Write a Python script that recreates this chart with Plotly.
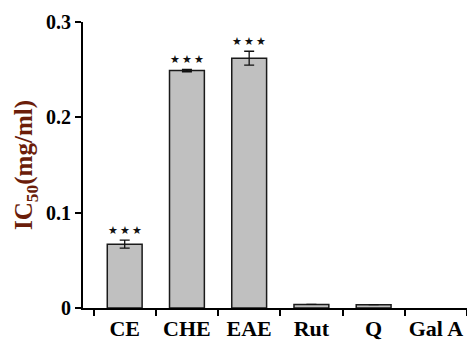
import plotly.graph_objects as go

categories = ["CE", "CHE", "EAE", "Rut", "Q", "Gal A"]
ic50 = [0.067, 0.249, 0.262, 0.0038, 0.0035, None]
err = [0.0042, 0.0012, 0.0073, 0.0, 0.0, 0.0]
sig = ["***", "***", "***", "", "", ""]
y_ticks = [0, 0.1, 0.2, 0.3]
y_tick_labels = ["0", "0.1", "0.2", "0.3"]

font_fam = "Liberation Serif, Times New Roman, serif"

fig = go.Figure()
fig.add_trace(go.Bar(
    x=categories, y=ic50,
    width=0.56,
    marker=dict(color="#c0c0c0", line=dict(color="#1a1a1a", width=1.5)),
    error_y=dict(type="data", array=err, visible=True, color="#111111",
                 thickness=1.3, width=5),
    showlegend=False,
))

for c, v, e, s in zip(categories, ic50, err, sig):
    if s and v is not None:
        fig.add_annotation(x=c, y=v + e, text="★\u2009★\u2009★", showarrow=False,
                           yanchor="bottom", yshift=1,
                           font=dict(family="DejaVu Sans", size=11, color="#111111"))

fig.update_layout(
    width=467, height=340,
    margin=dict(l=83, r=0, t=22, b=32),
    plot_bgcolor="white", paper_bgcolor="white",
    xaxis=dict(type="category", range=[-0.67, 5.5],
               ticktext=["<b>%s</b>" % c for c in categories],
               tickvals=categories, tickmode="array", tickangle=0,
               ticks="outside", tickson="boundaries", ticklen=6, tickwidth=1.5,
               tickcolor="black",
               showline=True, linecolor="black", automargin=False,
               linewidth=2, showgrid=False, zeroline=False,
               tickfont=dict(family=font_fam, size=22, color="black"),
               ticklabelstandoff=0),
    yaxis=dict(range=[0, 0.3], tickmode="array", tickvals=y_ticks,
               ticktext=["<b>%s</b>" % t for t in y_tick_labels],
               ticks="outside", ticklen=6, tickwidth=2, automargin=False,
               tickcolor="black", showline=True, linecolor="black", linewidth=2,
               showgrid=False, zeroline=False,
               tickfont=dict(family=font_fam, size=20, color="black"),
               title=dict(text="<b>IC<sub>50</sub>(mg/ml)</b>", standoff=6,
                          font=dict(family=font_fam, size=25, color="#6b1d0a"))),
)
fig.write_html("out.html")
